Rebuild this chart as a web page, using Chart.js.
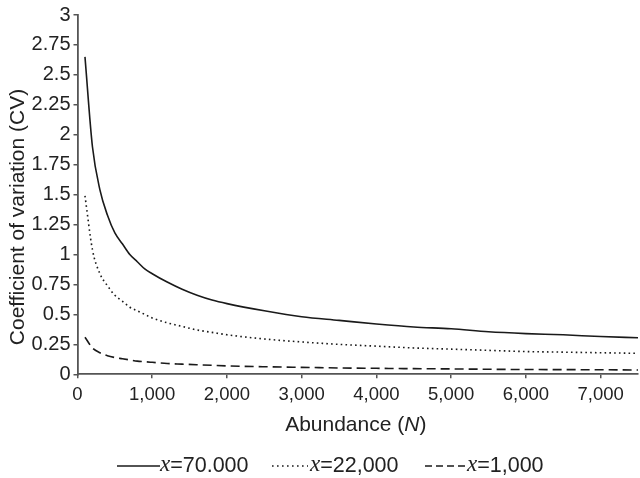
<!DOCTYPE html>
<html>
<head>
<meta charset="utf-8">
<script src="https://cdn.jsdelivr.net/npm/chart.js@4.4.1/dist/chart.umd.min.js"></script>
<style>
  html, body { margin: 0; padding: 0; background: #ffffff; }
  #wrap { width: 640px; height: 478px; position: relative; }
</style>
</head>
<body>
<div id="wrap"><canvas id="c" width="640" height="478"></canvas></div>
<script>
// ---- data ----
const abundance = [100, 200, 300, 400, 500, 600, 700, 800, 900, 1000, 1200, 1400, 1600, 1800, 2000,
                   2500, 3000, 3500, 4000, 4500, 5000, 5500, 6000, 6500, 7000, 7500];
const cvX70000 = [2.65, 1.90, 1.54, 1.33, 1.18, 1.09, 1.00, 0.94, 0.88, 0.84, 0.77, 0.71, 0.66, 0.62, 0.59,
                  0.53, 0.48, 0.45, 0.42, 0.395, 0.38, 0.355, 0.34, 0.33, 0.315, 0.305];
const cvX22000 = [1.49, 1.04, 0.84, 0.74, 0.66, 0.61, 0.56, 0.53, 0.50, 0.47, 0.43, 0.40, 0.37, 0.35, 0.33,
                  0.295, 0.27, 0.25, 0.235, 0.22, 0.21, 0.20, 0.19, 0.185, 0.18, 0.175];
const cvX1000  = [0.31, 0.22, 0.18, 0.155, 0.14, 0.13, 0.12, 0.11, 0.105, 0.10, 0.09, 0.085, 0.08, 0.075, 0.07,
                  0.063, 0.058, 0.053, 0.05, 0.047, 0.045, 0.042, 0.04, 0.039, 0.038, 0.036];
const seriesNames = ["70.000", "22,000", "1,000"];
const xTickValues = [0, 1000, 2000, 3000, 4000, 5000, 6000, 7000];
const xTickLabels = ["0", "1,000", "2,000", "3,000", "4,000", "5,000", "6,000", "7,000"];
const yTickLabels = ["0", "0.25", "0.5", "0.75", "1", "1.25", "1.5", "1.75", "2", "2.25", "2.5", "2.75", "3"];
const xTitleParts = ["Abundance (", "N", ")"];
const yTitle = "Coefficient of variation (CV)";

// ---- styles ----
const INK = '#1a1a1a';
const TXT = '#222222';
const AXIS = '#555555';
const SANS = '"Liberation Sans", Arial, sans-serif';
const SERIF = '"Liberation Serif", "Times New Roman", serif';
const dashes = [[], [1.6, 3.2], [9, 5]];
const legendDashes = [[], [1.6, 3.4], [7, 4]];
const legendLineStart = [117, 272, 425];
const legendLineLen = [43, 36, 42];

function pts(vals) { return abundance.map((n, i) => ({ x: n, y: vals[i] })); }

const allSeries = [cvX70000, cvX22000, cvX1000];

const extraText = {
  id: 'extraText',
  afterDraw(chart) {
    const ctx = chart.ctx;
    const ca = chart.chartArea;
    // Y title
    ctx.save();
    ctx.translate(18, 217);
    ctx.rotate(-Math.PI / 2);
    ctx.font = '21px ' + SANS;
    ctx.fillStyle = TXT;
    ctx.textAlign = 'center';
    ctx.textBaseline = 'middle';
    ctx.fillText(yTitle, 0, 0);
    ctx.restore();

    // X title with italic N
    ctx.save();
    const fonts = ['21px ' + SANS, 'italic 21px ' + SANS, '21px ' + SANS];
    let w = 0;
    const widths = xTitleParts.map((p, i) => { ctx.font = fonts[i]; const m = ctx.measureText(p).width; w += m; return m; });
    let x = (ca.left + ca.right) / 2 - 2 - w / 2;
    ctx.fillStyle = TXT;
    ctx.textBaseline = 'middle';
    ctx.textAlign = 'left';
    xTitleParts.forEach((p, i) => { ctx.font = fonts[i]; ctx.fillText(p, x, 425); x += widths[i]; });
    ctx.restore();

    // Legend
    ctx.save();
    const ly = 466;
    seriesNames.forEach((name, i) => {
      const lx = legendLineStart[i];
      const len = legendLineLen[i];
      ctx.strokeStyle = INK;
      ctx.lineWidth = 1.5;
      ctx.setLineDash(legendDashes[i]);
      ctx.beginPath();
      ctx.moveTo(lx, ly);
      ctx.lineTo(lx + len, ly);
      ctx.stroke();
      ctx.setLineDash([]);
      let tx = lx + len + (i === 1 ? 2 : 0);
      ctx.fillStyle = TXT;
      ctx.textBaseline = 'middle';
      ctx.textAlign = 'left';
      ctx.font = 'italic 23px ' + SERIF;
      ctx.fillText('x', tx, ly - 1);
      tx += ctx.measureText('x').width;
      ctx.font = '21.5px ' + SANS;
      ctx.fillText('=' + name, tx, ly);
    });
    ctx.restore();
  }
};

new Chart(document.getElementById('c'), {
  type: 'line',
  data: {
    datasets: seriesNames.map((name, i) => ({
      label: 'x=' + name,
      data: pts(allSeries[i]),
      borderColor: INK,
      backgroundColor: INK,
      borderWidth: 1.6,
      borderDash: dashes[i],
      pointRadius: 0,
      fill: false,
      cubicInterpolationMode: 'monotone'
    }))
  },
  options: {
    responsive: false,
    animation: false,
    layout: { padding: { left: 0, right: 2, top: 14, bottom: 68.7 } },
    plugins: { legend: { display: false }, tooltip: { enabled: false } },
    scales: {
      x: {
        type: 'linear',
        min: 0, max: 7500,
        afterFit: s => { s.height = 35; },
        afterBuildTicks: s => { s.ticks = xTickValues.map(v => ({ value: v })); },
        ticks: {
          stepSize: 1000,
          includeBounds: false,
          autoSkip: false,
          maxRotation: 0,
          color: TXT,
          font: { family: SANS, size: 18.5 },
          padding: 6,
          callback: (v) => { const k = xTickValues.indexOf(v); return k >= 0 ? xTickLabels[k] : ''; }
        },
        grid: { drawOnChartArea: false, drawTicks: true, tickLength: 4, color: AXIS, lineWidth: 1.5 },
        border: { display: true, color: AXIS, width: 1.8 }
      },
      y: {
        min: 0, max: 3,
        afterFit: s => { s.width = 77.5; },
        ticks: {
          stepSize: 0.25,
          autoSkip: false,
          color: TXT,
          font: { family: SANS, size: 20 },
          padding: 3,
          callback: (v) => { const k = Math.round(v / 0.25); return yTickLabels[k]; }
        },
        grid: { drawOnChartArea: false, drawTicks: true, tickLength: 4, color: AXIS, lineWidth: 1.5 },
        border: { display: true, color: AXIS, width: 1.8 }
      }
    }
  },
  plugins: [extraText]
});
</script>
</body>
</html>
